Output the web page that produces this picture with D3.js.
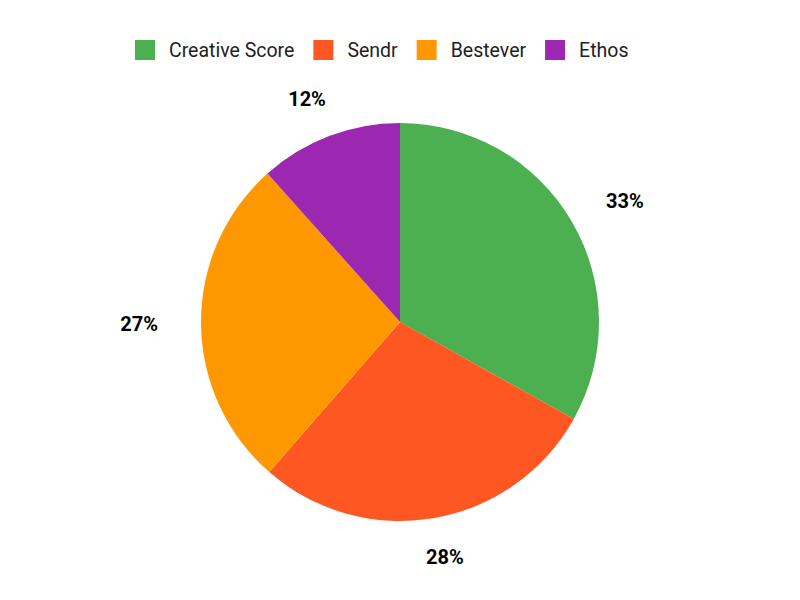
<!DOCTYPE html>
<html>
<head>
<meta charset="utf-8">
<script src="https://cdn.jsdelivr.net/npm/d3@7"></script>
<style>
  body { margin: 0; background: #fff; }
  text { font-family: Roboto, "Noto Sans", sans-serif; }
</style>
</head>
<body>
<div id="chart"></div>
<script>
var categories = ["Creative Score", "Sendr", "Bestever", "Ethos"];
var values = [33.1, 28.3, 27.0, 11.6];
var colors = ["#4CAF50", "#FF5722", "#FF9800", "#9C27B0"];

var width = 800, height = 600;
var cx = 400, cy = 322, radius = 199;

var svg = d3.select("#chart").append("svg")
  .attr("width", width)
  .attr("height", height);

var data = categories.map(function(c, i) {
  return {name: c, value: values[i], color: colors[i]};
});
var total = d3.sum(values);

var pie = d3.pie()
  .sort(null)
  .value(function(d) { return d.value; });

var arc = d3.arc()
  .innerRadius(0)
  .outerRadius(radius);

var pieGroup = svg.append("g")
  .attr("transform", "translate(" + cx + "," + cy + ")");

var arcs = pie(data);

pieGroup.selectAll("path")
  .data(arcs)
  .enter()
  .append("path")
    .attr("d", arc)
    .attr("fill", function(d) { return d.data.color; });

// Percent labels outside the pie
pieGroup.selectAll("text.pct")
  .data(arcs)
  .enter()
  .append("text")
    .attr("class", "pct")
    .attr("font-size", "20px")
    .attr("font-weight", "bold")
    .attr("fill", "#000")
    .attr("text-anchor", "middle")
    .attr("dy", "0.35em")
    .text(function(d) { return Math.round(d.data.value / total * 100) + "%"; })
    .each(function(d) {
      var a = (d.startAngle + d.endAngle) / 2;
      var w = this.getComputedTextLength();
      var x = 242 * Math.sin(a) + w / 2 * Math.sin(a);
      var y = -239 * Math.cos(a);
      d3.select(this).attr("x", x).attr("y", y);
    });

// Legend
var legend = svg.append("g").attr("class", "legend");
var lx = 135;
data.forEach(function(d) {
  legend.append("rect")
    .attr("x", lx)
    .attr("y", 40)
    .attr("width", 20)
    .attr("height", 20)
    .attr("fill", d.color);
  var t = legend.append("text")
    .attr("x", lx + 34)
    .attr("y", 50)
    .attr("dy", "0.35em")
    .attr("font-size", "19.5px")
    .attr("fill", "#222")
    .text(d.name);
  lx = lx + 34 + t.node().getComputedTextLength() + 19;
});
</script>
</body>
</html>
